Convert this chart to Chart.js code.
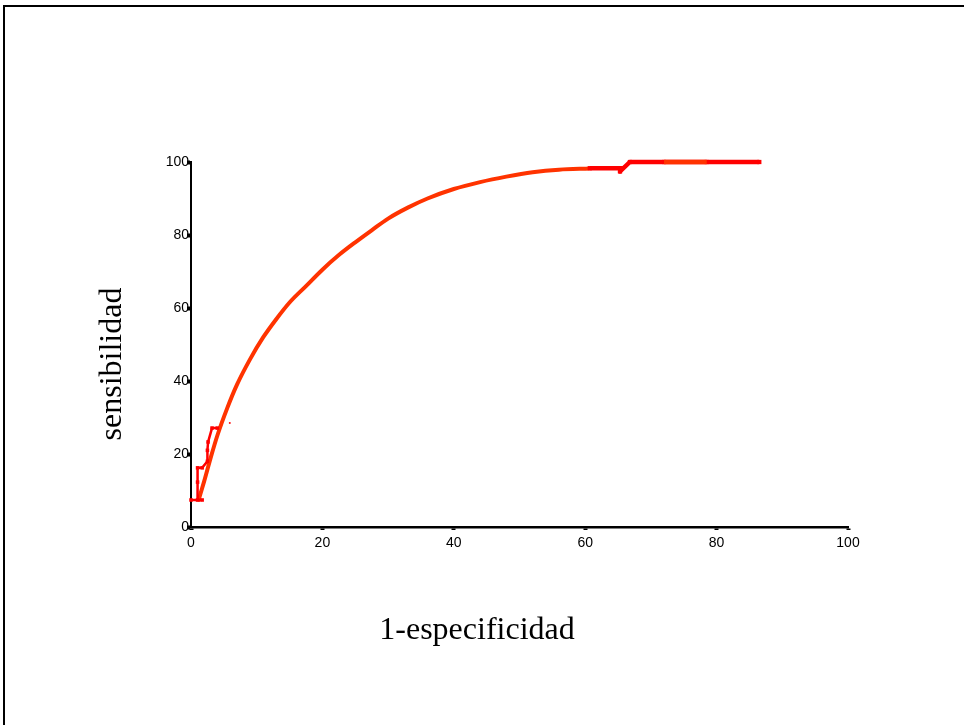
<!DOCTYPE html>
<html>
<head>
<meta charset="utf-8">
<script src="https://cdn.jsdelivr.net/npm/chart.js@4/dist/chart.umd.min.js"></script>
<style>
  html, body { margin: 0; padding: 0; background: #fff; }
  #wrap { width: 964px; height: 725px; position: relative; }
</style>
</head>
<body>
<div id="wrap"><canvas id="c" width="964" height="725"></canvas></div>
<script>
// ---- data (x = 1-especificidad, y = sensibilidad) ----
const curveX = [1.1, 2, 3, 4, 5.5, 7, 9, 11, 13, 15, 17.5, 20, 22.5, 25, 27.5, 30, 33, 36, 40, 44, 48, 52, 56, 60.7];
const curveY = [7, 12.5, 19, 25, 32.5, 39, 46, 52, 57, 61.5, 66, 70.5, 74.5, 78, 81.3, 84.5, 87.5, 90, 92.6, 94.5, 96, 97.2, 97.9, 98.2];

const lowStepX = [0, 1.7, 1.0, 1.0, 1.0, 1.7, 2.5, 2.5, 2.6, 3.2, 4.0];
const lowStepY = [7.4, 7.4, 7.4, 12.3, 16.2, 16.2, 18, 21, 23.3, 27.1, 27.1];

const topStepX = [60.7, 65.5, 65.3, 66.8, 72, 78.5, 86.5];
const topStepY = [98.3, 98.3, 97.4, 100, 100, 100, 100];

const topMidX = [72, 78.5];
const topMidY = [100, 100];

const strayX = [5.9];
const strayY = [28.5];

const xTicks = [0, 20, 40, 60, 80, 100];
const yTicks = [0, 20, 40, 60, 80, 100];

const xTitle = '1-especificidad';
const yTitle = 'sensibilidad';

function pts(xs, ys) { return xs.map((x, i) => ({ x: x, y: ys[i] })); }

const ORANGE = '#FF3300';
const RED = '#FF0000';

const frameAndTitles = {
  id: 'frameAndTitles',
  beforeDraw(chart) {
    const ctx = chart.ctx;
    ctx.save();
    ctx.fillStyle = '#fff';
    ctx.fillRect(0, 0, chart.width, chart.height);
    ctx.strokeStyle = '#000';
    ctx.lineWidth = 2;
    ctx.strokeRect(4, 6, 1000, 800);
    ctx.restore();
  },
  afterDraw(chart) {
    const ctx = chart.ctx;
    ctx.save();
    ctx.fillStyle = '#000';
    ctx.font = '32px "Liberation Serif", "Times New Roman", serif';
    ctx.textAlign = 'center';
    ctx.textBaseline = 'middle';
    ctx.fillText(xTitle, 477, 631);
    ctx.translate(113, 364);
    ctx.rotate(-Math.PI / 2);
    ctx.fillText(yTitle, 0, 0);
    ctx.restore();
  }
};

const tickFont = { family: '"Liberation Sans", Arial, sans-serif', size: 14 };

new Chart(document.getElementById('c'), {
  type: 'scatter',
  data: {
    datasets: [
      {
        data: pts(curveX, curveY), showLine: true, borderColor: ORANGE, borderWidth: 4,
        pointRadius: 0, cubicInterpolationMode: 'monotone', clip: false, order: 3
      },
      {
        data: pts(lowStepX, lowStepY), showLine: true, borderColor: RED, borderWidth: 2.5,
        pointRadius: 2.5, pointStyle: 'rect', pointBackgroundColor: RED, pointBorderWidth: 0,
        tension: 0, clip: false, order: 2
      },
      {
        data: pts(topStepX, topStepY), showLine: true, borderColor: RED, borderWidth: 4.5,
        borderJoinStyle: 'round', pointRadius: 3, pointStyle: 'rect', pointBackgroundColor: RED,
        pointBorderWidth: 0, tension: 0, clip: false, order: 2
      },
      {
        data: pts(topMidX, topMidY), showLine: true, borderColor: ORANGE, borderWidth: 4.5,
        pointRadius: 0, tension: 0, clip: false, order: 1
      },
      {
        data: pts(strayX, strayY), showLine: false, pointRadius: 1.2, pointStyle: 'rect',
        pointBackgroundColor: RED, pointBorderWidth: 0, clip: false, order: 1
      }
    ]
  },
  options: {
    responsive: false,
    animation: false,
    events: [],
    layout: { padding: { left: 0, top: 162, right: 116, bottom: 0 } },
    plugins: { legend: { display: false }, tooltip: { enabled: false } },
    scales: {
      x: {
        type: 'linear', min: 0, max: 100,
        afterFit(s) { s.height = 198; },
        afterBuildTicks(s) { s.ticks = xTicks.map(v => ({ value: v })); },
        border: { display: true, color: '#000', width: 2.5 },
        grid: { drawOnChartArea: false, drawTicks: true, tickLength: 3, tickWidth: 4, tickColor: '#000' },
        ticks: { color: '#000', font: tickFont, padding: 5, maxRotation: 0, autoSkip: false }
      },
      y: {
        type: 'linear', min: 0, max: 100,
        afterFit(s) { s.width = 191; },
        afterBuildTicks(s) { s.ticks = yTicks.map(v => ({ value: v })); },
        border: { display: true, color: '#000', width: 2 },
        grid: { drawOnChartArea: false, drawTicks: true, tickLength: 4, tickWidth: 4, tickColor: '#000' },
        ticks: { color: '#000', font: tickFont, padding: -2, autoSkip: false }
      }
    }
  },
  plugins: [frameAndTitles]
});
</script>
</body>
</html>
